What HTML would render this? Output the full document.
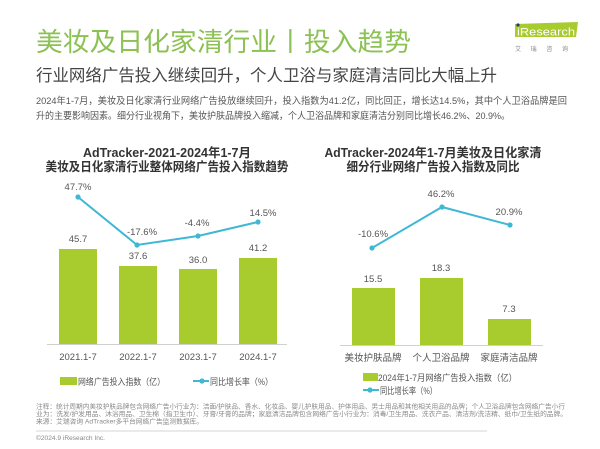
<!DOCTYPE html>
<html><head><meta charset="utf-8"><style>
html,body{margin:0;padding:0;background:#fff;}
svg{display:block;}
text{font-family:"Liberation Sans","Noto Sans CJK SC",sans-serif;}
</style></head><body>
<svg width="600" height="449" viewBox="0 0 600 449" xmlns="http://www.w3.org/2000/svg">
<rect width="600" height="449" fill="#fff"/>
<!-- Header -->
<text x="36" y="51" font-size="26" fill="#8cc153" textLength="375" lengthAdjust="spacingAndGlyphs">美妆及日化家清行业丨投入趋势</text>
<text x="36" y="81" font-size="16.5" fill="#444" textLength="461" lengthAdjust="spacingAndGlyphs">行业网络广告投入继续回升，个人卫浴与家庭清洁同比大幅上升</text>
<text x="36" y="104" font-size="9.5" fill="#555" textLength="531" lengthAdjust="spacingAndGlyphs">2024年1-7月，美妆及日化家清行业网络广告投放继续回升，投入指数为41.2亿，同比回正，增长达14.5%，其中个人卫浴品牌是回</text>
<text x="36" y="119" font-size="9.5" fill="#555" textLength="474" lengthAdjust="spacingAndGlyphs">升的主要影响因素。细分行业视角下，美妆护肤品牌投入缩减，个人卫浴品牌和家庭清洁分别同比增长46.2%、20.9%。</text>
<!-- Logo -->
<polygon points="515,24 578,22 576,37 515,37" fill="#a8cb2e"/>
<circle cx="518" cy="25" r="1.6" fill="#2a3a6e"/>
<text x="517" y="35.5" font-size="11" fill="#fff" textLength="58" lengthAdjust="spacingAndGlyphs">iResearch</text>
<text x="515" y="51" font-size="6" fill="#888" textLength="53" lengthAdjust="spacing">艾瑞咨询</text>

<!-- Left chart -->
<text x="167" y="157" font-size="12.5" font-weight="bold" fill="#333" text-anchor="middle" textLength="168" lengthAdjust="spacingAndGlyphs">AdTracker-2021-2024年1-7月</text>
<text x="167" y="171" font-size="12.5" font-weight="bold" fill="#333" text-anchor="middle" textLength="243" lengthAdjust="spacingAndGlyphs">美妆及日化家清行业整体网络广告投入指数趋势</text>
<g fill="#a8cb2e">
<rect x="59" y="249" width="38" height="95"/>
<rect x="119" y="266" width="38" height="78"/>
<rect x="179" y="269" width="38" height="75"/>
<rect x="239" y="258" width="38" height="86"/>
</g>
<line x1="47" y1="344.5" x2="287" y2="344.5" stroke="#d0d0d0" stroke-width="1"/>
<g font-size="9.5" fill="#555" text-anchor="middle">
<text x="78" y="242">45.7</text>
<text x="138" y="259">37.6</text>
<text x="198" y="263">36.0</text>
<text x="258" y="251">41.2</text>
<text x="78" y="360">2021.1-7</text>
<text x="138" y="360">2022.1-7</text>
<text x="198" y="360">2023.1-7</text>
<text x="258" y="360">2024.1-7</text>
<text x="78" y="190">47.7%</text>
<text x="142" y="235">-17.6%</text>
<text x="197" y="226">-4.4%</text>
<text x="263" y="216">14.5%</text>
</g>
<polyline points="78,197 137,245 198,236 258,222" fill="none" stroke="#3fb8d3" stroke-width="2"/>
<g fill="#3fb8d3">
<circle cx="78" cy="197" r="2.6"/><circle cx="137" cy="245" r="2.6"/><circle cx="198" cy="236" r="2.6"/><circle cx="258" cy="222" r="2.6"/>
</g>
<rect x="60" y="377" width="17" height="8" fill="#a8cb2e"/>
<text x="78" y="385" font-size="9" fill="#555" textLength="87" lengthAdjust="spacingAndGlyphs">网络广告投入指数（亿）</text>
<line x1="193" y1="381" x2="209" y2="381" stroke="#3fb8d3" stroke-width="2"/>
<circle cx="202" cy="381" r="2.6" fill="#3fb8d3"/>
<text x="210" y="385" font-size="9" fill="#555" textLength="63" lengthAdjust="spacingAndGlyphs">同比增长率（%）</text>

<!-- Right chart -->
<text x="433" y="157" font-size="12.5" font-weight="bold" fill="#333" text-anchor="middle" textLength="217" lengthAdjust="spacingAndGlyphs">AdTracker-2024年1-7月美妆及日化家清</text>
<text x="433" y="171" font-size="12.5" font-weight="bold" fill="#333" text-anchor="middle" textLength="173" lengthAdjust="spacingAndGlyphs">细分行业网络广告投入指数及同比</text>
<g fill="#a8cb2e">
<rect x="352" y="288" width="43" height="57"/>
<rect x="420" y="278" width="43" height="67"/>
<rect x="488" y="319" width="43" height="26"/>
</g>
<line x1="340" y1="345.5" x2="543" y2="345.5" stroke="#d0d0d0" stroke-width="1"/>
<g font-size="9.5" fill="#555" text-anchor="middle">
<text x="373" y="282">15.5</text>
<text x="441" y="271">18.3</text>
<text x="509" y="312">7.3</text>
<text x="373" y="237">-10.6%</text>
<text x="441" y="197">46.2%</text>
<text x="509" y="215">20.9%</text>
</g>
<g font-size="9.5" fill="#555" text-anchor="middle">
<text x="373" y="361">美妆护肤品牌</text>
<text x="441" y="361">个人卫浴品牌</text>
<text x="509" y="361">家庭清洁品牌</text>
</g>
<polyline points="372,248 442,207 510,225" fill="none" stroke="#3fb8d3" stroke-width="2"/>
<g fill="#3fb8d3">
<circle cx="372" cy="248" r="2.6"/><circle cx="442" cy="207" r="2.6"/><circle cx="510" cy="225" r="2.6"/>
</g>
<rect x="363" y="373" width="15" height="8" fill="#a8cb2e"/>
<text x="378" y="381" font-size="9" fill="#555" textLength="139" lengthAdjust="spacingAndGlyphs">2024年1-7月网络广告投入指数（亿）</text>
<line x1="363" y1="390" x2="379" y2="390" stroke="#3fb8d3" stroke-width="2"/>
<circle cx="370" cy="390" r="2.6" fill="#3fb8d3"/>
<text x="380" y="394" font-size="9" fill="#555" textLength="57" lengthAdjust="spacingAndGlyphs">同比增长率（%）</text>

<!-- Footer -->
<g font-size="6.5" fill="#888">
<text x="36" y="408.5" textLength="529" lengthAdjust="spacingAndGlyphs">注释：统计周期内美妆护肤品牌包含网络广告小行业为：洁面/护肤品、香水、化妆品、婴儿护肤用品、护体用品、男士用品和其他相关用品的品牌；个人卫浴品牌包含网络广告小行</text>
<text x="36" y="416" textLength="531" lengthAdjust="spacingAndGlyphs">业为：洗发/护发用品、沐浴用品、卫生棉（指卫生巾）、牙膏/牙膏的品牌；家庭清洁品牌包含网络广告小行业为：消毒/卫生用品、洗衣产品、清洁剂/洗洁精、纸巾/卫生纸的品牌。</text>
<text x="36" y="423.5" textLength="167" lengthAdjust="spacingAndGlyphs">来源：艾瑞咨询 AdTracker多平台网络广告监测数据库。</text>
<text x="36" y="440" textLength="69" lengthAdjust="spacingAndGlyphs">©2024.9 iResearch Inc.</text>
</g>
<line x1="36" y1="431" x2="487" y2="431" stroke="#c8c8c8" stroke-width="0.8"/>
</svg>
</body></html>
